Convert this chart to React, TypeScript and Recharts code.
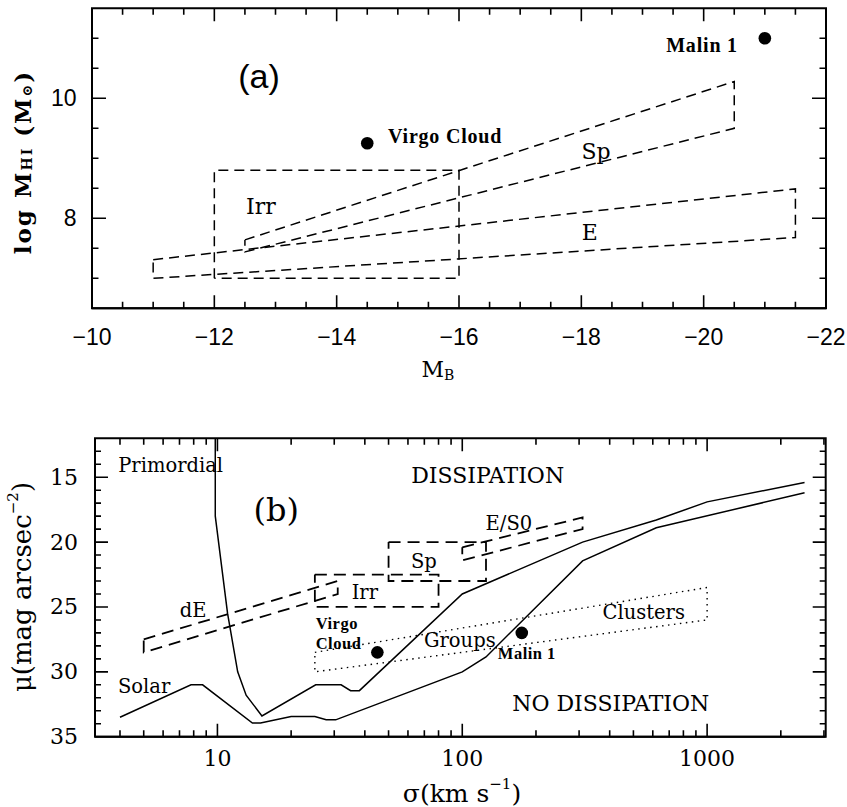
import { ComposedChart, Line, Scatter, XAxis, YAxis, Label, ReferenceArea } from "recharts";

// ---------- panel (a): log M_HI vs M_B ----------
const aXMajor = [-10, -12, -14, -16, -18, -20, -22];
const aXMinor = [-10.5, -11, -11.5, -12.5, -13, -13.5, -14.5, -15, -15.5, -16.5, -17, -17.5, -18.5, -19, -19.5, -20.5, -21, -21.5];
const aYMajor = [8, 10];
const aYMinor = [7, 7.5, 8.5, 9, 9.5, 10.5, 11];

const aIrrBox = [
  { x: -12, y: 7.0 }, { x: -12, y: 8.8 }, { x: -16, y: 8.8 }, { x: -16, y: 7.0 }, { x: -12, y: 7.0 },
];
const aSpBox = [
  { x: -12.5, y: 7.64 }, { x: -20.5, y: 10.28 }, { x: -20.5, y: 9.5 }, { x: -12.5, y: 7.44 }, { x: -12.5, y: 7.64 },
];
const aEBox = [
  { x: -11, y: 7.31 }, { x: -21.5, y: 8.49 }, { x: -21.5, y: 7.68 }, { x: -11, y: 7.0 }, { x: -11, y: 7.31 },
];
const aGalaxies = [
  { x: -14.5, y: 9.25 }, // Virgo Cloud
  { x: -21, y: 11.0 }, // Malin 1
];
const aLabels = [
  { x: -12.73, y: 10.37, t: "(a)", kind: "panelA" },
  { x: -20.56, y: 10.89, t: "Malin 1", kind: "boldEnd" },
  { x: -14.84, y: 9.37, t: "Virgo Cloud", kind: "boldStart" },
  { x: -12.76, y: 8.19, t: "Irr", kind: "a" },
  { x: -18.24, y: 9.11, t: "Sp", kind: "a" },
  { x: -18.14, y: 7.76, t: "E", kind: "a" },
];

// ---------- panel (b): mu vs sigma ----------
const bXMajor = [10, 100, 1000];
const bXMinor = [4, 5, 6, 7, 8, 9, 20, 30, 40, 50, 60, 70, 80, 90, 200, 300, 400, 500, 600, 700, 800, 900, 2000, 3000];
const bYMajor = [15, 20, 25, 30, 35];
const bYMinor = [13, 14, 16, 17, 18, 19, 21, 22, 23, 24, 26, 27, 28, 29, 31, 32, 33, 34];

const bPrimordial = [
  { x: 9.8, y: 12 }, { x: 9.8, y: 18 }, { x: 11, y: 25.5 }, { x: 12.1, y: 30 }, { x: 13.1, y: 31.8 },
  { x: 15.2, y: 33.4 }, { x: 25.2, y: 31 }, { x: 32, y: 31 }, { x: 35, y: 31.45 }, { x: 38, y: 31.45 },
  { x: 100, y: 24 }, { x: 310, y: 20 }, { x: 620, y: 18.3 }, { x: 1000, y: 16.9 }, { x: 2500, y: 15.4 },
];
const bSolar = [
  { x: 4, y: 33.5 }, { x: 7.8, y: 31 }, { x: 8.7, y: 31 }, { x: 13.9, y: 33.95 }, { x: 15, y: 33.95 },
  { x: 20, y: 33.45 }, { x: 25, y: 33.45 }, { x: 27.8, y: 33.7 }, { x: 30.4, y: 33.7 }, { x: 100, y: 30 },
  { x: 125, y: 28.85 }, { x: 310, y: 21.45 }, { x: 620, y: 18.9 }, { x: 2500, y: 16.2 },
];
const bDEBox = [{ x: 5, y: 27.5 }, { x: 31, y: 23.0 }, { x: 31, y: 24.0 }, { x: 5, y: 28.5 }, { x: 5, y: 27.5 }];
const bIrrBox = [{ x: 25, y: 22.5 }, { x: 80, y: 22.5 }, { x: 80, y: 25 }, { x: 25, y: 25 }, { x: 25, y: 22.5 }];
const bSpBox = [{ x: 50, y: 20 }, { x: 125, y: 20 }, { x: 125, y: 23 }, { x: 50, y: 23 }, { x: 50, y: 20 }];
const bES0Box = [{ x: 100, y: 20.4 }, { x: 310, y: 18.1 }, { x: 310, y: 19.0 }, { x: 100, y: 21.4 }, { x: 100, y: 20.4 }];
const bClusterBox = [{ x: 25, y: 28.5 }, { x: 1000, y: 23.5 }, { x: 1000, y: 26 }, { x: 25, y: 30 }, { x: 25, y: 28.5 }];
const bGalaxies = [
  { x: 45, y: 28.5 }, // Virgo Cloud
  { x: 175, y: 27 }, // Malin 1
];
const bLabels = [
  { x: 6.44, y: 14.06, t: "Primordial", kind: "b" },
  { x: 17.4, y: 17.5, t: "(b)", kind: "panelB" },
  { x: 127, y: 14.9, t: "DISSIPATION", kind: "big" },
  { x: 155, y: 18.57, t: "E/S0", kind: "b" },
  { x: 69.7, y: 21.46, t: "Sp", kind: "b" },
  { x: 40, y: 23.85, t: "Irr", kind: "b" },
  { x: 7.95, y: 25.28, t: "dE", kind: "b" },
  { x: 25.2, y: 26.3, t: "Virgo", kind: "smallBold" },
  { x: 25.2, y: 27.83, t: "Cloud", kind: "smallBold" },
  { x: 97.7, y: 27.58, t: "Groups", kind: "b" },
  { x: 139.7, y: 28.6, t: "Malin 1", kind: "smallBold" },
  { x: 551, y: 25.46, t: "Clusters", kind: "b" },
  { x: 5.02, y: 31.1, t: "Solar", kind: "b" },
  { x: 404, y: 32.42, t: "NO DISSIPATION", kind: "big" },
];

const SERIF = "'DejaVu Serif', serif";
const SANS = "'Liberation Sans', Arial, sans-serif";
const BOLD = "'Liberation Serif', serif";

const labelStyles: Record<string, any> = {
  panelA: { fontFamily: SANS, fontSize: 34, textAnchor: "middle" },
  panelB: { fontFamily: SERIF, fontSize: 32, textAnchor: "middle" },
  boldEnd: { fontFamily: BOLD, fontSize: 20, fontWeight: 700, textAnchor: "end", letterSpacing: 0.8 },
  boldStart: { fontFamily: BOLD, fontSize: 20, fontWeight: 700, textAnchor: "start", letterSpacing: 0.8 },
  smallBold: { fontFamily: BOLD, fontSize: 16.5, fontWeight: 700, textAnchor: "start", letterSpacing: 0.5 },
  a: { fontFamily: SERIF, fontSize: 22, textAnchor: "middle" },
  b: { fontFamily: SERIF, fontSize: 19.5, textAnchor: "middle" },
  big: { fontFamily: SERIF, fontSize: 22, textAnchor: "middle" },
};

const renderLabel = (p: any) => {
  const s = labelStyles[p.payload.kind];
  return (
    <text x={p.cx} y={p.cy} dominantBaseline="central" fill="#000" {...s}>
      {p.payload.t}
    </text>
  );
};

const renderDot = (p: any) => <circle cx={p.cx} cy={p.cy} r={6.3} fill="#000" />;

const fmtNum = (v: number) => (v < 0 ? "\u2212" + Math.abs(v) : String(v));

const xTickText = (gap: number, font: string, size: number) => (p: any) => (
  <text x={p.x} y={Number(p.y) + gap} textAnchor="middle" dominantBaseline="central" fontFamily={font} fontSize={size} fill="#000">
    {fmtNum(p.payload.value)}
  </text>
);
const yTickText = (gap: number, font: string, size: number) => (p: any) => (
  <text x={Number(p.x) - gap} y={p.y} textAnchor="end" dominantBaseline="central" fontFamily={font} fontSize={size} fill="#000">
    {fmtNum(p.payload.value)}
  </text>
);

const frame = { stroke: "#000", strokeWidth: 2 };

// Tick marks as broken line series (null breaks between ticks).
// inner(v, isMajor) gives the inward end of a tick that starts on the edge.
function vTicks(values: number[], major: number[], edge: number, inner: (big: boolean) => number) {
  const out: { x: number; y: number | null }[] = [];
  values.forEach((v) => {
    out.push({ x: v, y: edge }, { x: v, y: inner(major.includes(v)) }, { x: v, y: null });
  });
  return out;
}
function hTicks(values: number[], major: number[], edge: number, inner: (big: boolean) => number) {
  const out: { x: number; y: number | null }[] = [];
  values.forEach((v) => {
    const end = inner(major.includes(v));
    out.push({ x: edge, y: v }, { x: end, y: v }, { x: end, y: null });
  });
  return out;
}

const tickLine = { stroke: "#000", strokeWidth: 1.6, dot: false, connectNulls: false, isAnimationActive: false };

function PanelA() {
  const xDom: [number, number] = [-22, -10];
  const yDom: [number, number] = [6.5, 11.5];
  const xt = [...aXMajor, ...aXMinor];
  const yt = [...aYMajor, ...aYMinor];
  // tick lengths in data units: 13 / 6.5 px at 61.2 px per mag and 60 px per dex
  const ty = (big: boolean) => (big ? 13 : 6.5) / 60;
  const tx = (big: boolean) => (big ? 14 : 6.5) / 61.2;
  const bottom = vTicks(xt, aXMajor, yDom[0], (b) => yDom[0] + ty(b));
  const top = vTicks(xt, aXMajor, yDom[1], (b) => yDom[1] - ty(b));
  const left = hTicks(yt, aYMajor, xDom[1], (b) => xDom[1] - tx(b));
  const right = hTicks(yt, aYMajor, xDom[0], (b) => xDom[0] + tx(b));
  const dash = { stroke: "#000", strokeWidth: 1.5, strokeDasharray: "10 6", dot: false, isAnimationActive: false };
  return (
    <ComposedChart width={847} height={400} margin={{ top: 8.3, right: 21, bottom: 31.7, left: 32 }}>
      <XAxis xAxisId="b" type="number" dataKey="x" domain={xDom} reversed allowDataOverflow ticks={aXMajor} interval={0}
        tickSize={0} tickMargin={0} tickLine={false} height={60} axisLine={frame} tick={xTickText(29, SANS, 23)}>
        <Label content={() => (
          <text x={438} y={369} textAnchor="middle" dominantBaseline="central" fontFamily={SERIF} fontSize={22} fill="#000">
            M<tspan fontSize={14} dy={6}>B</tspan>
          </text>
        )} />
      </XAxis>
      <YAxis yAxisId="l" type="number" dataKey="y" domain={yDom} allowDataOverflow ticks={aYMajor} interval={0}
        tickSize={0} tickMargin={0} tickLine={false} width={60} axisLine={frame} tick={yTickText(15.5, SANS, 23)}>
        <Label content={() => (
          <text transform="rotate(-90 22 162)" x={22} y={162} textAnchor="middle" dominantBaseline="central" fontFamily={SERIF} fontSize={23} fontWeight={700} letterSpacing={2} fill="#000">
            log M<tspan fontSize={14} dy={5}>HI</tspan>
            <tspan dy={-5}>{"  (M"}</tspan>
            <tspan fontSize={14} dy={5}>⊙</tspan>
            <tspan dy={-5}>)</tspan>
          </text>
        )} />
      </YAxis>
      <ReferenceArea xAxisId="b" yAxisId="l" x1={xDom[0]} x2={xDom[1]} y1={yDom[0]} y2={yDom[1]} fill="none" fillOpacity={0} stroke="#000" strokeWidth={2} ifOverflow="visible" />
      <Line xAxisId="b" yAxisId="l" data={bottom} dataKey="y" {...tickLine} />
      <Line xAxisId="b" yAxisId="l" data={top} dataKey="y" {...tickLine} />
      <Line xAxisId="b" yAxisId="l" data={left} dataKey="y" {...tickLine} />
      <Line xAxisId="b" yAxisId="l" data={right} dataKey="y" {...tickLine} />
      <Line xAxisId="b" yAxisId="l" data={aIrrBox} dataKey="y" {...dash} />
      <Line xAxisId="b" yAxisId="l" data={aSpBox} dataKey="y" {...dash} />
      <Line xAxisId="b" yAxisId="l" data={aEBox} dataKey="y" {...dash} />
      <Scatter xAxisId="b" yAxisId="l" data={aGalaxies} shape={renderDot} isAnimationActive={false} />
      <Scatter xAxisId="b" yAxisId="l" data={aLabels} shape={renderLabel} isAnimationActive={false} />
    </ComposedChart>
  );
}

function PanelB() {
  const xDom: [number, number] = [3.1623, 3050];
  const yDom: [number, number] = [12, 35];
  const xt = [...bXMajor, ...bXMinor];
  const yt = [...bYMajor, ...bYMinor];
  // tick lengths in data units: 13 px per mag on y, 245 px per decade on the log x axis
  const ty = (big: boolean) => (big ? 13 : 6.5) / 13;
  const fx = (big: boolean) => Math.pow(10, (big ? 13 : 6) / 245);
  const bottom = vTicks(xt, bXMajor, yDom[1], (b) => yDom[1] - ty(b));
  const top = vTicks(xt, bXMajor, yDom[0], (b) => yDom[0] + ty(b));
  const left = hTicks(yt, bYMajor, xDom[0], (b) => xDom[0] * fx(b));
  const right = hTicks(yt, bYMajor, xDom[1], (b) => xDom[1] / fx(b));
  const solid = { stroke: "#000", strokeWidth: 1.5, dot: false, isAnimationActive: false };
  const dash = { stroke: "#000", strokeWidth: 1.8, strokeDasharray: "12 7", dot: false, isAnimationActive: false };
  return (
    <ComposedChart width={847} height={407} margin={{ top: 38.3, right: 21.3, bottom: 10.3, left: 35 }}>
      <XAxis xAxisId="b" type="number" dataKey="x" scale="log" domain={xDom} allowDataOverflow ticks={bXMajor} interval={0}
        tickSize={0} tickMargin={0} tickLine={false} height={60} axisLine={frame} tick={xTickText(21.5, SERIF, 22)}>
        <Label content={() => (
          <text x={462} y={393} textAnchor="middle" dominantBaseline="central" fontFamily={SERIF} fontSize={25} fill="#000">
            σ(km s<tspan fontSize={15} dy={-9}>−1</tspan>
            <tspan dy={9}>)</tspan>
          </text>
        )} />
      </XAxis>
      <YAxis yAxisId="l" type="number" dataKey="y" domain={yDom} reversed allowDataOverflow ticks={bYMajor} interval={0}
        tickSize={0} tickMargin={0} tickLine={false} width={60} axisLine={frame} tick={yTickText(17, SERIF, 22)}>
        <Label content={() => (
          <text transform="rotate(-90 22 187)" x={22} y={187} textAnchor="middle" dominantBaseline="central" fontFamily={SERIF} fontSize={26} fill="#000">
            μ(mag arcsec<tspan fontSize={15} dy={-9}>−2</tspan>
            <tspan dy={9}>)</tspan>
          </text>
        )} />
      </YAxis>
      <ReferenceArea xAxisId="b" yAxisId="l" x1={xDom[0]} x2={xDom[1]} y1={yDom[0]} y2={yDom[1]} fill="none" fillOpacity={0} stroke="#000" strokeWidth={2} ifOverflow="visible" />
      <Line xAxisId="b" yAxisId="l" data={bottom} dataKey="y" {...tickLine} />
      <Line xAxisId="b" yAxisId="l" data={top} dataKey="y" {...tickLine} />
      <Line xAxisId="b" yAxisId="l" data={left} dataKey="y" {...tickLine} />
      <Line xAxisId="b" yAxisId="l" data={right} dataKey="y" {...tickLine} />
      <Line xAxisId="b" yAxisId="l" data={bPrimordial} dataKey="y" {...solid} />
      <Line xAxisId="b" yAxisId="l" data={bSolar} dataKey="y" {...solid} />
      <Line xAxisId="b" yAxisId="l" data={bDEBox} dataKey="y" {...dash} />
      <Line xAxisId="b" yAxisId="l" data={bIrrBox} dataKey="y" {...dash} />
      <Line xAxisId="b" yAxisId="l" data={bSpBox} dataKey="y" {...dash} />
      <Line xAxisId="b" yAxisId="l" data={bES0Box} dataKey="y" {...dash} />
      <Line xAxisId="b" yAxisId="l" data={bClusterBox} dataKey="y" stroke="#000" strokeWidth={1.4}
        strokeDasharray="1.5 4.5" dot={false} isAnimationActive={false} />
      <Scatter xAxisId="b" yAxisId="l" data={bGalaxies} shape={renderDot} isAnimationActive={false} />
      <Scatter xAxisId="b" yAxisId="l" data={bLabels} shape={renderLabel} isAnimationActive={false} />
    </ComposedChart>
  );
}

export default function App() {
  return (
    <div style={{ position: "absolute", left: 0, top: 0, width: 847, height: 807, background: "#fff" }}>
      <div style={{ position: "absolute", left: 0, top: 0 }}>
        <PanelA />
      </div>
      <div style={{ position: "absolute", left: 0, top: 400 }}>
        <PanelB />
      </div>
    </div>
  );
}
